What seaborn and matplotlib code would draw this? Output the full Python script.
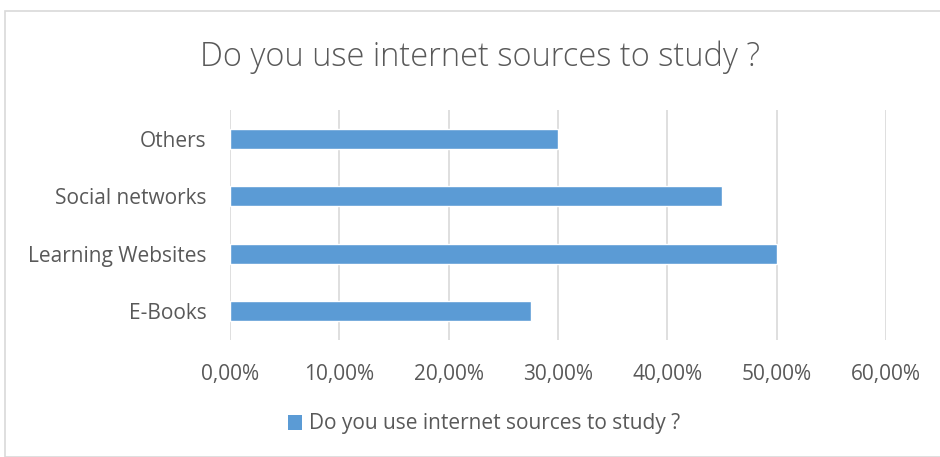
import matplotlib
matplotlib.use("Agg")
import matplotlib.pyplot as plt
import seaborn as sns
import pandas as pd
from matplotlib.patches import Rectangle, Patch
from matplotlib.ticker import FuncFormatter

categories = ["Others", "Social networks", "Learning Websites", "E-Books"]
values = [0.30, 0.45, 0.50, 0.275]
series_name = "Do you use internet sources to study ?"
xticks = [0, 0.1, 0.2, 0.3, 0.4, 0.5, 0.6]

sns.set_theme(style="white")
plt.rcParams['font.family'] = ['Open Sans', 'DejaVu Sans']

df = pd.DataFrame({"category": categories, "value": values})

fig = plt.figure(figsize=(9.4, 4.57), dpi=100)
ax = fig.add_axes([230/940, 1-340/457, (886-230)/940, (340-110)/457])

bar_color = "#5B9BD5"
text_color = "#595959"

sns.barplot(data=df, x="value", y="category", order=categories, color=bar_color,
            width=0.35, ax=ax, saturation=1, zorder=3)

ax.set_xlim(0, 0.6)
ax.set_xticks(xticks)
ax.xaxis.set_major_formatter(FuncFormatter(lambda v, p: f"{v*100:.2f}%".replace(".", ",")))
ax.grid(axis="x", color="#D9D9D9", linewidth=1.2, zorder=0)
ax.grid(axis="y", visible=False)
for s in ax.spines.values():
    s.set_visible(False)
ax.set_xlabel("")
ax.set_ylabel("")
ax.tick_params(axis="both", length=0, colors=text_color, labelsize=15)
ax.tick_params(axis="x", pad=17)
ax.tick_params(axis="y", pad=17)

fig.text(480/940, 1-57/457, series_name, ha="center", va="center", fontsize=23.5,
         color=text_color, fontweight="light")

handle = Patch(facecolor=bar_color, edgecolor="none")
fig.legend([handle], [series_name], loc="center", bbox_to_anchor=(0.515, 1-424/457),
           frameon=False, fontsize=15, labelcolor=text_color, handlelength=0.7,
           handleheight=0.7, handletextpad=0.35)

fig.patches.append(Rectangle((5/940, 0), 1, 1-11/457, transform=fig.transFigure,
                             fill=False, edgecolor="#D9D9D9", linewidth=1.2))

fig.savefig("out.png", dpi=100)
